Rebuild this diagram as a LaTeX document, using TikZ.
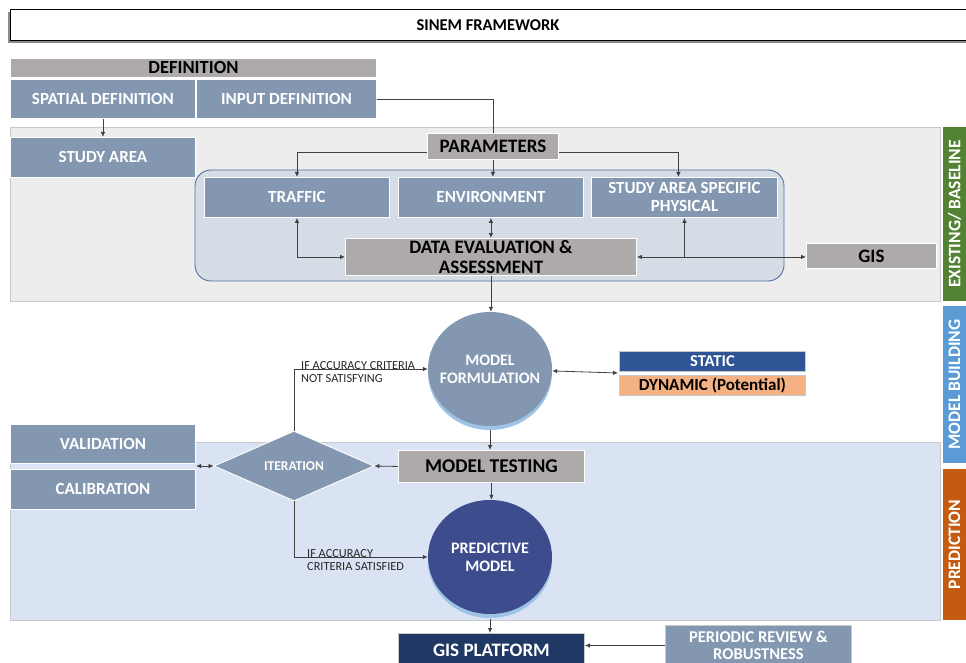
\documentclass[tikz,border=0pt]{standalone}
\usepackage{fontspec}
\setmainfont{Carlito}
\usetikzlibrary{arrows.meta,shapes.geometric,positioning,calc}
\definecolor{pSlate}{HTML}{8497B0}
\definecolor{pGray}{HTML}{AEAAAA}
\definecolor{pBand}{HTML}{EDEDED}
\definecolor{pPale}{HTML}{DAE3F3}
\definecolor{pFrame}{HTML}{D6DCE5}
\definecolor{pFrameLine}{HTML}{4F73A0}
\definecolor{pGreen}{HTML}{548235}
\definecolor{pSky}{HTML}{5B9BD5}
\definecolor{pRust}{HTML}{C55A11}
\definecolor{pRoyal}{HTML}{2F5597}
\definecolor{pPeach}{HTML}{F4B183}
\definecolor{pNavy}{HTML}{203864}
\definecolor{pIndigo}{HTML}{3C4C8C}
\definecolor{pShade}{HTML}{9DC3E6}
\definecolor{pLine}{HTML}{404040}
\definecolor{pRule}{HTML}{C9C9C9}

\newcommand{\fs}[1]{\fontsize{#1}{#1}\selectfont}

\begin{document}
\begin{tikzpicture}[x=1pt,y=-1pt,
    slate/.style={rectangle, fill=pSlate, draw=white, line width=0.9pt, text=white,
        font=\bfseries\fs{17}, align=center, inner sep=0pt, anchor=north west},
    greybox/.style={rectangle, fill=pGray, draw=white, line width=0.9pt, text=black,
        font=\bfseries\fs{19}, align=center, inner sep=0pt, anchor=north west},
    tab/.style={rectangle, text=white, rotate=90, inner sep=0pt,
        font=\bfseries\fs{17.5}, minimum height=23},
    roundel/.style={ellipse, minimum width=124, minimum height=114, inner sep=0pt},
    roundtext/.style={text=white, font=\bfseries\fs{16}, align=center, inner sep=0pt},
    note/.style={font=\fs{12.3}, text=black!85, align=left, inner sep=0pt, anchor=west},
    link/.style={draw=pLine, line width=0.8pt},
    tip/.style={-{Latex[length=5pt,width=4.5pt]}},
    tips/.style={{Latex[length=5pt,width=4.5pt]}-{Latex[length=5pt,width=4.5pt]}}]

    \useasboundingbox (0,0) rectangle (966,663);
    \clip (0,0) rectangle (966,663);

    % title
    \fill[black!45] (8,12) rectangle (966,43);
    \node[draw=black, line width=1pt, fill=white, minimum width=956, minimum height=31,
        inner sep=0pt, font=\bfseries\fs{16.5}] (title) at (488,25.5) {SINEM FRAMEWORK};

    % bands
    \draw[pRule, fill=pBand] (10,127) rectangle (940,301);
    \draw[pRule, fill=pPale] (10,442) rectangle (940,620);
    \node[tab, fill=pGreen, minimum width=174] (tabE) at (954.5,214) {EXISTING/ BASELINE};
    \node[tab, fill=pSky, minimum width=157] (tabM) at (954.5,384.5) {MODEL BUILDING};
    \node[tab, fill=pRust, minimum width=151] (tabP) at (954.5,544.5) {PREDICTION};

    % definition block
    \node[greybox, minimum width=366, minimum height=19, font=\bfseries\fs{18.5}] (defn) at (10,58) {DEFINITION};
    \node[slate, minimum width=185, minimum height=39] (spatial) at (10,79) {SPATIAL DEFINITION};
    \node[slate, minimum width=180, minimum height=39] (input) at (196,79) {INPUT DEFINITION};
    \node[slate, minimum width=185, minimum height=40] (study) at (10,137) {STUDY AREA};

    % parameters
    \draw[pFrameLine, fill=pFrame, line width=0.9pt, rounded corners=16] (195,170) rectangle (784,281);
    \node[greybox, minimum width=131, minimum height=26] (params) at (427,133) {PARAMETERS};
    \node[slate, minimum width=185, minimum height=40] (traffic) at (204,177) {TRAFFIC};
    \node[slate, minimum width=185, minimum height=40] (env) at (398,177) {ENVIRONMENT};
    \node[slate, minimum width=186, minimum height=40] (physical) at (591,177) {STUDY AREA SPECIFIC\\[1pt]PHYSICAL};
    \node[greybox, minimum width=291, minimum height=37] (dataeval) at (345,238) {DATA EVALUATION \&\\[1pt]ASSESSMENT};
    \node[greybox, minimum width=130, minimum height=25] (gis) at (806,243) {GIS};

    % model building
    \fill[pShade] (490,373) ellipse (62 and 57);
    \node[roundel, fill=pSlate] (formulation) at (490,369) {};
    \node[roundtext] (formtext) at (formulation) {MODEL\\[2pt]FORMULATION};
    \node[rectangle, fill=pRoyal, draw=pRule, line width=0.9pt, minimum width=186, minimum height=20,
        inner sep=0pt, anchor=north west, text=white, font=\bfseries\fs{16.5}] (static) at (619,351) {STATIC};
    \node[rectangle, fill=pPeach, draw=pRule, line width=0.9pt, minimum width=186, minimum height=20,
        inner sep=0pt, anchor=north west, text=black, font=\bfseries\fs{17}] (dynamic) at (619,375) {DYNAMIC (Potential)};
    \coordinate (optsjoin) at (618,373);

    % prediction
    \node[slate, minimum width=185, minimum height=39] (validation) at (10,424) {VALIDATION};
    \node[slate, minimum width=185, minimum height=40] (calibration) at (10,469) {CALIBRATION};
    \coordinate (vcjoin) at (196,466);
    \node[diamond, fill=pSlate, draw=white, line width=0.9pt, minimum width=160, minimum height=70,
        inner sep=0pt, text=white, font=\bfseries\fs{13.5}] (iteration) at (294,466) {ITERATION};
    \node[greybox, minimum width=186, minimum height=32, font=\bfseries\fs{19.5}] (testing) at (398,450) {MODEL TESTING};
    \fill[pShade] (490,561) ellipse (62 and 57);
    \node[roundel, fill=pIndigo] (predictive) at (490,557) {};
    \node[roundtext] (predtext) at (predictive) {PREDICTIVE\\[2pt]MODEL};
    \node[rectangle, fill=pNavy, draw=pRule, line width=0.9pt, minimum width=186, minimum height=34,
        inner sep=0pt, anchor=north west, text=white, font=\bfseries\fs{19}] (platform) at (398,633) {GIS PLATFORM};
    \node[slate, draw=pRule, minimum width=186, minimum height=40, font=\bfseries\fs{16.5}] (periodic) at (665,625) {PERIODIC REVIEW \&\\[0pt]ROBUSTNESS};

    % connectors
    \draw[link, tip] (spatial.south) -- (study.north);
    \draw[link] (input.east) -| (params.north);
    \draw[link, tip] ([yshift=-6pt]params.west) -| (traffic.north);
    \draw[link, tip] ([yshift=-6pt]params.east) -| ([xshift=-6pt]physical.north);
    \draw[link, tip] (params.south) -- (params.south |- env.north);
    \draw[link, tips] (traffic.south) |- (dataeval.west);
    \draw[link, tips] (env.south) -- (env.south |- dataeval.north);
    \draw[link, tips] (dataeval.east) -- (dataeval.east -| gis.west);
    \draw[link, tip] (physical.south |- dataeval.east) -- (physical.south);
    \draw[link, tip] (dataeval.south) -- (dataeval.south |- formulation.north);
    \draw[link, tips] (formulation) -- (optsjoin);
    \draw[link, tip] (formulation.south |- 0,430) -- (formulation.south |- testing.north);
    \draw[link, tip] (testing.west) -- (iteration.east);
    \draw[link, tips] (vcjoin) -- (iteration.west);
    \draw[link, tip] (iteration.north) |- (formulation.west);
    \draw[link, tip] (iteration.south) |- (predictive.west);
    \draw[link, tip] (testing.south) -- (testing.south |- predictive.north);
    \draw[link, tip] (predictive.south |- 0,619) -- (predictive.south |- platform.north);
    \draw[link, tip] (periodic.west) -- (periodic.west -| platform.east);

    % branch labels
    \node[note] (notfit) at (301,372) {IF ACCURACY CRITERIA\\[1pt]NOT SATISFYING};
    \node[note] (fit) at (307,560) {IF ACCURACY\\[1pt]CRITERIA SATISFIED};
\end{tikzpicture}
\end{document}
